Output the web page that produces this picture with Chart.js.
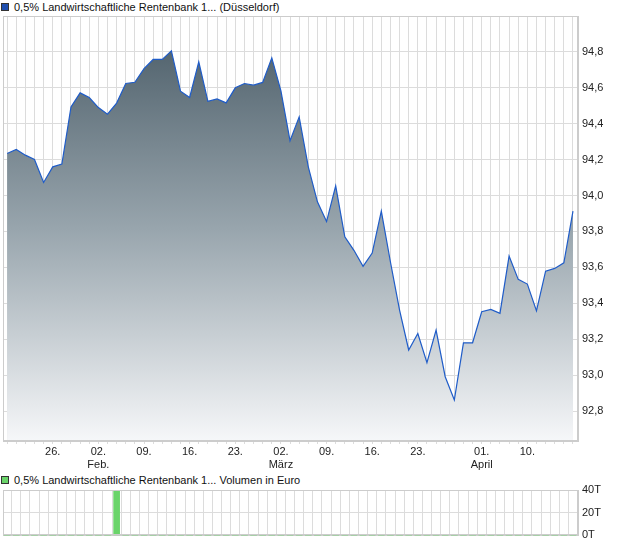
<!DOCTYPE html>
<html><head><meta charset="utf-8">
<script src="https://cdn.jsdelivr.net/npm/chart.js@4.4.1/dist/chart.umd.min.js"></script>
<style>
html,body{margin:0;padding:0;background:#fff;width:620px;height:546px;overflow:hidden;font-family:"Liberation Sans",Arial,sans-serif;}
#main{position:absolute;left:0;top:0;}
#vol{position:absolute;left:0;top:470px;}
.leg{position:absolute;left:1px;font-size:11px;color:#111;white-space:nowrap;line-height:13px;}
.leg i{display:inline-block;width:6px;height:6px;border:1px solid #333;margin-right:5px;vertical-align:0px;}
</style></head><body>
<div class="leg" style="top:1px"><i style="background:#1f4fb0"></i>0,5% Landwirtschaftliche Rentenbank 1... (Düsseldorf)</div>
<div class="leg" style="top:474px"><i style="background:#6ad46a"></i>0,5% Landwirtschaftliche Rentenbank 1... Volumen in Euro</div>
<canvas id="main" width="620" height="470"></canvas>
<canvas id="vol" width="620" height="76"></canvas>
<script>
const days = [
 '19.01.','20.01.','21.01.','22.01.','23.01.','26.01.','27.01.','28.01.','29.01.','30.01.',
 '02.02.','03.02.','04.02.','05.02.','06.02.','09.02.','10.02.','11.02.','12.02.','13.02.',
 '16.02.','17.02.','18.02.','19.02.','20.02.','23.02.','24.02.','25.02.','26.02.','27.02.',
 '02.03.','03.03.','04.03.','05.03.','06.03.','09.03.','10.03.','11.03.','12.03.','13.03.',
 '16.03.','17.03.','18.03.','19.03.','20.03.','23.03.','24.03.','25.03.','26.03.','27.03.',
 '30.03.','31.03.','01.04.','02.04.','07.04.','08.04.','09.04.','10.04.','13.04.','14.04.',
 '15.04.','16.04.','17.04.'
];
const prices = [
 94.234,94.257,94.225,94.201,94.073,94.160,94.175,94.494,94.572,94.546,
 94.490,94.453,94.515,94.624,94.631,94.707,94.758,94.758,94.806,94.581,
 94.546,94.745,94.525,94.538,94.516,94.600,94.624,94.615,94.630,94.767,
 94.583,94.305,94.438,94.160,93.965,93.855,94.054,93.770,93.695,93.606,
 93.680,93.913,93.630,93.362,93.140,93.232,93.069,93.251,92.991,92.861,
 93.180,93.180,93.353,93.366,93.344,93.663,93.533,93.507,93.358,93.579,
 93.594,93.625,93.913
];
const volumes = [
 0,0,0,0,0,0,0,0,0,0,
 0,0,39,0,0,0,0,0,0,0,
 0,0,0,0,0,0,0,0,0,0,
 0,0,0,0,0,0,0,0,0,0,
 0,0,0,0,0,0,0,0,0,0,
 0,0,0,0,0,0,0,0,0,0,
 0,0,0
];
const xTickLabels = {
 '26.01.':'26.', '02.02.':['02.','Feb.'], '09.02.':'09.', '16.02.':'16.', '23.02.':'23.',
 '02.03.':['02.','März'], '09.03.':'09.', '16.03.':'16.', '23.03.':'23.',
 '01.04.':['01.','April'], '10.04.':'10.'
};
const priceTicks = [92.8,93.0,93.2,93.4,93.6,93.8,94.0,94.2,94.4,94.6,94.8];
const volumeTicks = [0,20,40];

const FONT = {family:'"Liberation Sans", Arial, sans-serif', size:11};
const GRID = '#dcdcdc';
const FRAME = '#cccccc';
const X_MIN = -0.45, X_MAX = days.length - 1 + 0.55;

const framePlugin = {
  id:'frame',
  afterDraw(chart){
    const a = chart.chartArea, c = chart.ctx;
    c.save(); c.strokeStyle = FRAME; c.lineWidth = 1;
    c.strokeRect(Math.round(a.left)+0.5, Math.round(a.top)+0.5, Math.round(a.right-a.left)-1, Math.round(a.bottom-a.top)-1);
    c.restore();
  }
};

const dayTicks = s => { s.ticks = days.map((d,i)=>({value:i})); };

new Chart(document.getElementById('main'), {
  type:'line',
  data:{datasets:[{
    data: prices.map((v,i)=>({x:i,y:v})),
    borderColor:'#1f5cc8', borderWidth:1.2, pointRadius:0, tension:0, fill:'start',
    backgroundColor: ctx => {
      const a = ctx.chart.chartArea;
      if (!a) return '#8a9aa3';
      const g = ctx.chart.ctx.createLinearGradient(0, a.top, 0, a.bottom);
      g.addColorStop(0, '#475964');
      g.addColorStop(0.5, '#98a5ad');
      g.addColorStop(1, '#f6f7f9');
      return g;
    }
  }]},
  options:{
    responsive:false, animation:false, events:[],
    layout:{padding:{left:3, top:16, right:0, bottom:0}},
    plugins:{legend:{display:false}, tooltip:{enabled:false}},
    scales:{
      x:{type:'linear', min:X_MIN, max:X_MAX,
        afterBuildTicks: dayTicks,
        afterFit: s => { s.height = 29; },
        grid:{color:GRID, tickLength:3, drawTicks:true},
        border:{color:FRAME},
        ticks:{autoSkip:false, maxRotation:0, minRotation:0, padding:1, font:FONT, color:'#222',
          callback: v => xTickLabels[days[v]] || ''}
      },
      y:{position:'right', min:92.633, max:95.0,
        afterBuildTicks: s => { s.ticks = priceTicks.map(v=>({value:v})); },
        afterFit: s => { s.width = 42; },
        grid:{color:GRID, drawTicks:false},
        border:{color:FRAME},
        ticks:{padding:4, font:FONT, color:'#222', callback: v => v.toFixed(1).replace('.',',')}
      }
    }
  },
  plugins:[framePlugin]
});

new Chart(document.getElementById('vol'), {
  type:'bar',
  data:{datasets:[{
    data: volumes.map((v,i)=>({x:i,y:v})),
    backgroundColor:'#6ad46a', borderWidth:0, barThickness:6
  }]},
  options:{
    responsive:false, animation:false, events:[],
    layout:{padding:{left:3, top:20, right:0, bottom:10}},
    plugins:{legend:{display:false}, tooltip:{enabled:false}},
    scales:{
      x:{type:'linear', min:X_MIN, max:X_MAX, offset:false,
        afterBuildTicks: dayTicks,
        afterFit: s => { s.height = 0; },
        grid:{color:GRID, drawTicks:false},
        border:{color:FRAME},
        ticks:{display:false}
      },
      y:{position:'right', min:0, max:40,
        afterBuildTicks: s => { s.ticks = volumeTicks.map(v=>({value:v})); },
        afterFit: s => { s.width = 42; },
        grid:{color:GRID, drawTicks:false},
        border:{color:FRAME},
        ticks:{padding:4, font:FONT, color:'#222', callback: v => v + 'T'}
      }
    }
  },
  plugins:[framePlugin]
});
</script>
</body></html>
